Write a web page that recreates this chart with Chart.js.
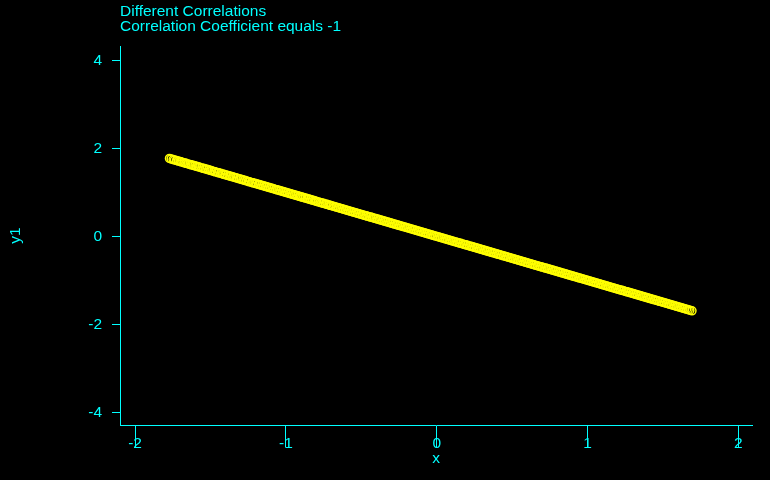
<!DOCTYPE html>
<html>
<head>
<meta charset="utf-8">
<script src="https://cdn.jsdelivr.net/npm/chart.js@4.4.1/dist/chart.umd.min.js"></script>
<style>
  html, body { margin: 0; padding: 0; background: #000; }
  #wrap { width: 770px; height: 480px; }
</style>
</head>
<body>
<div id="wrap"><canvas id="corrChart" width="770" height="480"></canvas></div>
<script>
const titleLines = ['Different Correlations', 'Correlation Coefficient equals -1'];
const xTicks = [-2, -1, 0, 1, 2];
const yTicks = [-4, -2, 0, 2, 4];

const xValues = [
  -1.772, -1.761, -1.748, -1.739, -1.726, -1.714, -1.703,
  -1.695, -1.683, -1.671, -1.662, -1.649, -1.637, -1.628, -1.616, -1.604,
  -1.593, -1.581, -1.572, -1.558, -1.547, -1.536, -1.524, -1.513, -1.502,
  -1.491, -1.478, -1.469, -1.455, -1.446, -1.433, -1.421, -1.412, -1.401,
  -1.389, -1.377, -1.366, -1.354, -1.345, -1.331, -1.322, -1.309,
  -1.297, -1.286, -1.274, -1.263, -1.251, -1.242, -1.228, -1.219, -1.206,
  -1.195, -1.183, -1.172, -1.161, -1.149, -1.138, -1.127, -1.115, -1.104,
  -1.092, -1.081, -1.069, -1.058, -1.047, -1.036, -1.024, -1.013, -1.002,
  -0.991, -0.979, -0.968, -0.957, -0.945, -0.934, -0.922, -0.911, -0.903,
  -0.894, -0.882, -0.871, -0.859, -0.848, -0.837, -0.826, -0.814, -0.805,
  -0.796, -0.784, -0.773, -0.762, -0.751, -0.739, -0.728, -0.716, -0.707,
  -0.698, -0.686, -0.675, -0.664, -0.652, -0.641, -0.629, -0.618, -0.607,
  -0.596, -0.585, -0.573, -0.562, -0.551, -0.539, -0.528, -0.517, -0.505,
  -0.494, -0.483, -0.471, -0.462, -0.449, -0.438, -0.427, -0.415, -0.404,
  -0.393, -0.382, -0.371, -0.359, -0.348, -0.337, -0.325, -0.314, -0.303,
  -0.292, -0.281, -0.269, -0.258, -0.247, -0.236, -0.224, -0.213, -0.202,
  -0.191, -0.179, -0.168, -0.157, -0.146, -0.134, -0.123, -0.112, -0.101,
  -0.089, -0.078, -0.067, -0.056, -0.044, -0.033, -0.022, -0.011,
  0.002, 0.013, 0.024, 0.036, 0.047, 0.058, 0.069, 0.081, 0.092,
  0.103, 0.114, 0.126, 0.137, 0.148, 0.159, 0.171, 0.182, 0.193,
  0.204, 0.216, 0.227, 0.238, 0.249, 0.261, 0.272, 0.283, 0.294,
  0.306, 0.317, 0.328, 0.339, 0.351, 0.362, 0.373, 0.384, 0.396,
  0.407, 0.418, 0.429, 0.441, 0.452, 0.463, 0.474, 0.486, 0.497,
  0.508, 0.519, 0.531, 0.542, 0.553, 0.564, 0.576, 0.587, 0.598,
  0.609, 0.621, 0.632, 0.643, 0.654, 0.666, 0.677, 0.688, 0.699,
  0.711, 0.722, 0.733, 0.744, 0.756, 0.767, 0.778, 0.789,
  0.801, 0.812, 0.823, 0.834, 0.846, 0.857, 0.868, 0.879, 0.891,
  0.902, 0.913, 0.924, 0.936, 0.947, 0.958, 0.969, 0.981, 0.992,
  1.003, 1.014, 1.026, 1.037, 1.048, 1.059, 1.071, 1.082, 1.093,
  1.104, 1.116, 1.127, 1.138, 1.149, 1.161, 1.172, 1.183, 1.194,
  1.206, 1.217, 1.228, 1.239, 1.251, 1.262, 1.273, 1.284, 1.296,
  1.307, 1.318, 1.329, 1.341, 1.352, 1.363, 1.374, 1.386, 1.397,
  1.408, 1.419, 1.431, 1.442, 1.453, 1.464, 1.476, 1.487, 1.498,
  1.509, 1.521, 1.532, 1.543, 1.554, 1.566, 1.577, 1.588, 1.599,
  1.611, 1.622, 1.633, 1.644, 1.656, 1.667, 1.678, 1.692
];

const y1Values = [
  1.772, 1.761, 1.748, 1.739, 1.726, 1.714, 1.703,
  1.695, 1.683, 1.671, 1.662, 1.649, 1.637, 1.628, 1.616, 1.604,
  1.593, 1.581, 1.572, 1.558, 1.547, 1.536, 1.524, 1.513, 1.502,
  1.491, 1.478, 1.469, 1.455, 1.446, 1.433, 1.421, 1.412, 1.401,
  1.389, 1.377, 1.366, 1.354, 1.345, 1.331, 1.322, 1.309,
  1.297, 1.286, 1.274, 1.263, 1.251, 1.242, 1.228, 1.219, 1.206,
  1.195, 1.183, 1.172, 1.161, 1.149, 1.138, 1.127, 1.115, 1.104,
  1.092, 1.081, 1.069, 1.058, 1.047, 1.036, 1.024, 1.013, 1.002,
  0.991, 0.979, 0.968, 0.957, 0.945, 0.934, 0.922, 0.911, 0.903,
  0.894, 0.882, 0.871, 0.859, 0.848, 0.837, 0.826, 0.814, 0.805,
  0.796, 0.784, 0.773, 0.762, 0.751, 0.739, 0.728, 0.716, 0.707,
  0.698, 0.686, 0.675, 0.664, 0.652, 0.641, 0.629, 0.618, 0.607,
  0.596, 0.585, 0.573, 0.562, 0.551, 0.539, 0.528, 0.517, 0.505,
  0.494, 0.483, 0.471, 0.462, 0.449, 0.438, 0.427, 0.415, 0.404,
  0.393, 0.382, 0.371, 0.359, 0.348, 0.337, 0.325, 0.314, 0.303,
  0.292, 0.281, 0.269, 0.258, 0.247, 0.236, 0.224, 0.213, 0.202,
  0.191, 0.179, 0.168, 0.157, 0.146, 0.134, 0.123, 0.112, 0.101,
  0.089, 0.078, 0.067, 0.056, 0.044, 0.033, 0.022, 0.011,
  -0.002, -0.013, -0.024, -0.036, -0.047, -0.058, -0.069, -0.081, -0.092,
  -0.103, -0.114, -0.126, -0.137, -0.148, -0.159, -0.171, -0.182, -0.193,
  -0.204, -0.216, -0.227, -0.238, -0.249, -0.261, -0.272, -0.283, -0.294,
  -0.306, -0.317, -0.328, -0.339, -0.351, -0.362, -0.373, -0.384, -0.396,
  -0.407, -0.418, -0.429, -0.441, -0.452, -0.463, -0.474, -0.486, -0.497,
  -0.508, -0.519, -0.531, -0.542, -0.553, -0.564, -0.576, -0.587, -0.598,
  -0.609, -0.621, -0.632, -0.643, -0.654, -0.666, -0.677, -0.688, -0.699,
  -0.711, -0.722, -0.733, -0.744, -0.756, -0.767, -0.778, -0.789,
  -0.801, -0.812, -0.823, -0.834, -0.846, -0.857, -0.868, -0.879, -0.891,
  -0.902, -0.913, -0.924, -0.936, -0.947, -0.958, -0.969, -0.981, -0.992,
  -1.003, -1.014, -1.026, -1.037, -1.048, -1.059, -1.071, -1.082, -1.093,
  -1.104, -1.116, -1.127, -1.138, -1.149, -1.161, -1.172, -1.183, -1.194,
  -1.206, -1.217, -1.228, -1.239, -1.251, -1.262, -1.273, -1.284, -1.296,
  -1.307, -1.318, -1.329, -1.341, -1.352, -1.363, -1.374, -1.386, -1.397,
  -1.408, -1.419, -1.431, -1.442, -1.453, -1.464, -1.476, -1.487, -1.498,
  -1.509, -1.521, -1.532, -1.543, -1.554, -1.566, -1.577, -1.588, -1.599,
  -1.611, -1.622, -1.633, -1.644, -1.656, -1.667, -1.678, -1.692
];

const cyan = '#00ffff';
const yellow = '#ffff00';
const font = { family: '"Liberation Sans", Arial, sans-serif', size: 15.5 };

// background + two-line title at the left edge of the plot area
const decor = {
  id: 'decor',
  beforeDraw(chart) {
    const c = chart.ctx;
    c.save();
    c.fillStyle = '#000';
    c.fillRect(0, 0, chart.width, chart.height);
    c.restore();
  },
  afterDraw(chart) {
    const c = chart.ctx;
    c.save();
    c.fillStyle = cyan;
    c.font = font.size + 'px ' + font.family;
    c.textAlign = 'left';
    c.textBaseline = 'alphabetic';
    titleLines.forEach((t, i) => c.fillText(t, chart.chartArea.left, 16 + i * 15));
    c.restore();
  }
};

const points = xValues.map((x, i) => ({ x: x, y: y1Values[i] }));

new Chart(document.getElementById('corrChart'), {
  type: 'scatter',
  data: {
    datasets: [{
      data: points,
      pointStyle: 'circle',
      pointRadius: 4,
      pointBorderWidth: 1.5,
      pointBorderColor: yellow,
      pointBackgroundColor: 'rgba(0,0,0,0)'
    }]
  },
  options: {
    responsive: false,
    animation: false,
    events: [],
    layout: { padding: { top: 46, right: 18, left: 0, bottom: 0 } },
    plugins: {
      legend: { display: false },
      tooltip: { enabled: false },
      title: { display: false }
    },
    scales: {
      x: {
        type: 'linear',
        min: -2.1,
        max: 2.09,
        afterBuildTicks: s => { s.ticks = xTicks.map(v => ({ value: v })); },
        afterFit: s => { s.height = 55; },
        border: { display: true, color: cyan, width: 1 },
        grid: { drawOnChartArea: false, drawTicks: true, tickLength: 22, tickColor: cyan, tickWidth: 1 },
        ticks: { color: cyan, font: font, padding: -13, maxRotation: 0 },
        title: { display: true, text: 'x', color: cyan, font: font, padding: { top: 0, bottom: 12 } }
      },
      y: {
        type: 'linear',
        min: -4.29,
        max: 4.33,
        afterBuildTicks: s => { s.ticks = yTicks.map(v => ({ value: v })); },
        afterFit: s => { s.width = 120; },
        border: { display: true, color: cyan, width: 1 },
        grid: { drawOnChartArea: false, drawTicks: true, tickLength: 8, tickColor: cyan, tickWidth: 1 },
        ticks: { color: cyan, font: font, padding: 10 },
        title: { display: true, text: 'y1', color: cyan, font: font, padding: { top: 6, bottom: 0 } }
      }
    }
  },
  plugins: [decor]
});
</script>
</body>
</html>
